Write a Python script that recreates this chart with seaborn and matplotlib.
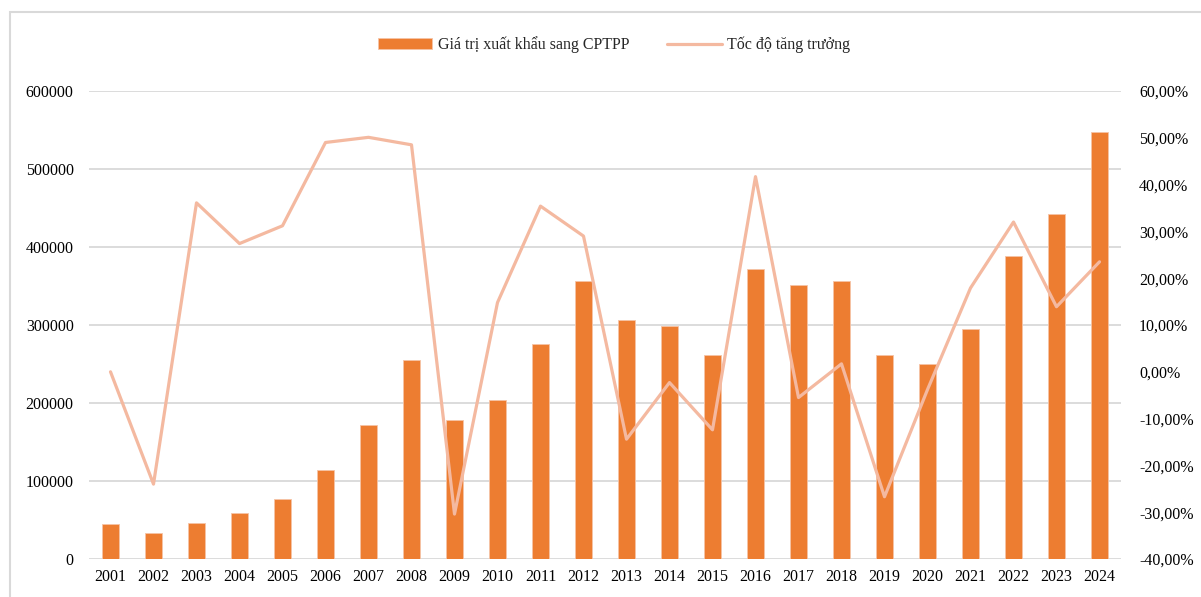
import numpy as np
import pandas as pd
import matplotlib
matplotlib.use("Agg")
import matplotlib.pyplot as plt
import seaborn as sns
from matplotlib.ticker import FuncFormatter, MultipleLocator
from matplotlib.patches import Rectangle

# dữ liệu
years = [str(y) for y in range(2001, 2025)]
export_value = [44500, 33700, 45700, 58500, 76500, 114100, 171400, 255100,
                177800, 203400, 276100, 356000, 306000, 298300, 262000, 371400,
                350900, 356800, 262000, 249600, 294400, 388900, 442700, 547000]
growth_rate = [0.0, -24.0, 36.1, 27.4, 31.2, 49.0, 50.1, 48.5,
               -30.4, 14.8, 35.4, 29.0, -14.4, -2.3, -12.4, 41.7,
               -5.5, 1.7, -26.7, -3.8, 17.9, 32.0, 13.9, 23.5]

bar_label = "Giá trị xuất khẩu sang CPTPP"
line_label = "Tốc độ tăng trưởng"

bar_color = "#ED7D31"
line_color = "#F4B9A0"
grid_color = "#D9D9D9"

sns.set_theme(style="white")
plt.rcParams['font.family'] = ['Liberation Serif', 'DejaVu Serif']

df = pd.DataFrame({"year": years, "value": export_value, "growth": growth_rate})
df["pos"] = np.arange(len(df))

fig = plt.figure(figsize=(12.01, 5.97), dpi=100)
ax = fig.add_axes([89 / 1201, 1 - 559 / 597, (1121 - 89) / 1201, (559 - 91) / 597])

sns.barplot(data=df, x="year", y="value", color=bar_color, saturation=1,
            width=0.41, edgecolor="#F6C3A6", linewidth=0.6, label=bar_label, ax=ax)
ax.set_ylim(0, 600000)
ax.yaxis.set_major_locator(MultipleLocator(100000))
ax.set_xlim(-0.5, len(df) - 0.5)
ax.set_axisbelow(True)
ax.grid(axis="y", color=grid_color, linewidth=1.3)
ax.grid(axis="x", visible=False)
for s in ax.spines.values():
    s.set_visible(False)
ax.set_xlabel("")
ax.set_ylabel("")
ax.tick_params(axis="y", labelsize=11.5, pad=11, length=0, colors="#000000")
ax.tick_params(axis="x", labelsize=11.5, pad=7, length=0, colors="#000000")

ax2 = ax.twinx()
sns.lineplot(data=df, x="pos", y="growth", color=line_color, linewidth=2.3,
             label=line_label, ax=ax2)
ax2.set_ylim(-40, 60)
ax2.yaxis.set_major_locator(MultipleLocator(10))
ax2.yaxis.set_major_formatter(FuncFormatter(lambda v, p: f"{v:.2f}%".replace(".", ",")))
ax2.set_xlim(-0.5, len(df) - 0.5)
for s in ax2.spines.values():
    s.set_visible(False)
ax2.grid(False)
ax2.set_xlabel("")
ax2.set_ylabel("")
ax2.tick_params(axis="y", labelsize=11.5, pad=13, length=0, colors="#000000")

h1, l1 = ax.get_legend_handles_labels()
h2, l2 = ax2.get_legend_handles_labels()
for a in (ax, ax2):
    if a.get_legend() is not None:
        a.get_legend().remove()
fig.legend(h1 + h2, l1 + l2, loc="center", bbox_to_anchor=(614 / 1201, 1 - 45 / 597),
           ncol=2, frameon=False, fontsize=11.5, handlelength=3.4,
           handletextpad=0.35, columnspacing=2.4)

# khung viền của vùng biểu đồ
fig.patches.append(Rectangle((10 / 1201, -0.05), 1.2, 1 - 12 / 597 + 0.05,
                             transform=fig.transFigure, fill=False,
                             edgecolor="#D9D9D9", linewidth=1.5))

fig.savefig("out.png", dpi=100)
